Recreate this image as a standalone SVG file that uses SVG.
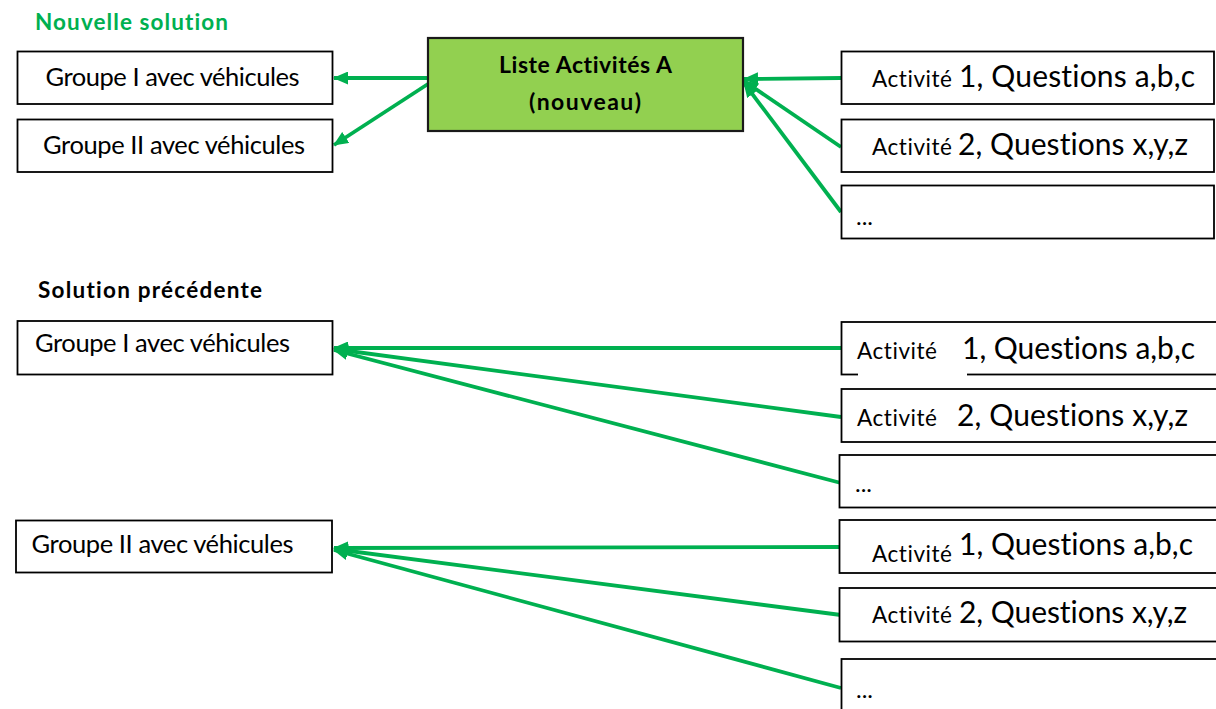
<svg xmlns="http://www.w3.org/2000/svg" width="1216" height="709" viewBox="0 0 1216 709">
<style>
  text { font-family: Lato, "Open Sans", "Liberation Sans", sans-serif; fill: #000; font-variant-ligatures: none; font-feature-settings: "liga" 0, "clig" 0; }
  .box { fill: #fff; stroke: #000; stroke-width: 1.8; }
  .main { fill: #92D050; stroke: #1a1a1a; stroke-width: 2.2; }
  .grp { font-size: 25.5px; }
  .act { font-size: 22.5px; }
  .big { font-size: 30px; }
  .dots { font-size: 24px; }
  .title { font-size: 22.5px; font-weight: bold; }
  .mainTxt { font-size: 23px; font-weight: bold; }
  .conn line { stroke: #00B050; stroke-width: 3.8; marker-end: url(#ah); }
</style>
<defs>
  <marker id="ah" markerUnits="userSpaceOnUse" markerWidth="15" markerHeight="13" refX="14" refY="6.5" orient="auto">
    <path d="M0,0 L15,6.5 L0,13 z" fill="#00B050"/>
  </marker>
</defs>
<rect width="1216" height="709" fill="#fff"/>

<text class="title" x="35" y="30" textLength="193" style="fill:#00B050">Nouvelle solution</text>
<text class="title" x="38" y="298" textLength="224">Solution précédente</text>

<g class="conn" id="connectors">
  <line x1="428" y1="78" x2="334" y2="78"/>
  <line x1="428" y1="84" x2="334" y2="145"/>
  <line x1="841" y1="78" x2="744" y2="79"/>
  <line x1="841" y1="147" x2="744" y2="81"/>
  <line x1="841" y1="212" x2="744" y2="83"/>
  <line x1="841" y1="348" x2="334" y2="348"/>
  <line x1="841" y1="417" x2="334" y2="349"/>
  <line x1="841" y1="483" x2="334" y2="350"/>
  <line x1="841" y1="547" x2="334" y2="548"/>
  <line x1="841" y1="615" x2="334" y2="549"/>
  <line x1="841" y1="688" x2="334" y2="550"/>
</g>

<g id="new-groupe1">
  <rect class="box" x="17.5" y="51.5" width="315" height="52.5"/>
  <text class="grp" x="45.5" y="85.7" textLength="254">Groupe I avec véhicules</text>
</g>
<g id="new-groupe2">
  <rect class="box" x="17.5" y="119.5" width="315" height="52.5"/>
  <text class="grp" x="43" y="154.3" textLength="262">Groupe II avec véhicules</text>
</g>
<g id="liste-activites">
  <rect class="main" x="428" y="38" width="315" height="93"/>
  <text class="mainTxt" x="499" y="73.3" textLength="173">Liste Activités A</text>
  <text class="mainTxt" x="529" y="110" textLength="112">(nouveau)</text>
</g>
<g id="new-act1">
  <rect class="box" x="841.5" y="51.5" width="372.5" height="52.5"/>
  <text x="872" y="87"><tspan class="act" textLength="80">Activité</tspan><tspan class="big" x="959" textLength="236">1, Questions a,b,c</tspan></text>
</g>
<g id="new-act2">
  <rect class="box" x="841.5" y="119.5" width="372.5" height="52.5"/>
  <text x="872" y="155"><tspan class="act" textLength="80">Activité</tspan><tspan class="big" x="958" textLength="230">2, Questions x,y,z</tspan></text>
</g>
<g id="new-act3">
  <rect class="box" x="841.5" y="185.5" width="372.5" height="53"/>
  <text class="dots" x="856" y="225">...</text>
</g>

<g id="old-groupe1">
  <rect class="box" x="17.5" y="321" width="315" height="53.5"/>
  <text class="grp" x="35" y="351.7" textLength="255">Groupe I avec véhicules</text>
</g>
<g id="old-groupe1-act1">
  <rect class="box" x="841.5" y="322" width="380" height="52.5"/>
  <rect x="858" y="372" width="109" height="4" fill="#fff"/>
  <text x="857" y="359"><tspan class="act" textLength="80">Activité</tspan><tspan class="big" x="962" textLength="233">1, Questions a,b,c</tspan></text>
</g>
<g id="old-groupe1-act2">
  <rect class="box" x="841.5" y="389" width="380" height="53"/>
  <text x="857" y="426"><tspan class="act" textLength="80">Activité</tspan><tspan class="big" x="957" textLength="231">2, Questions x,y,z</tspan></text>
</g>
<g id="old-groupe1-act3">
  <rect class="box" x="839.5" y="455" width="380" height="52.5"/>
  <text class="dots" x="855" y="492">...</text>
</g>

<g id="old-groupe2">
  <rect class="box" x="16" y="520.5" width="316" height="52"/>
  <text class="grp" x="31.5" y="552.7" textLength="262">Groupe II avec véhicules</text>
</g>
<g id="old-groupe2-act1">
  <rect class="box" x="839.5" y="520" width="380" height="53"/>
  <text x="872" y="562"><tspan class="act" textLength="80">Activité</tspan></text>
  <text x="959" y="555"><tspan class="big" textLength="234">1, Questions a,b,c</tspan></text>
</g>
<g id="old-groupe2-act2">
  <rect class="box" x="839.5" y="588" width="380" height="53.5"/>
  <text x="872" y="623"><tspan class="act" textLength="80">Activité</tspan><tspan class="big" x="959" textLength="228">2, Questions x,y,z</tspan></text>
</g>
<g id="old-groupe2-act3">
  <rect class="box" x="841.5" y="659" width="380" height="60"/>
  <text class="dots" x="856" y="698">...</text>
</g>
</svg>
